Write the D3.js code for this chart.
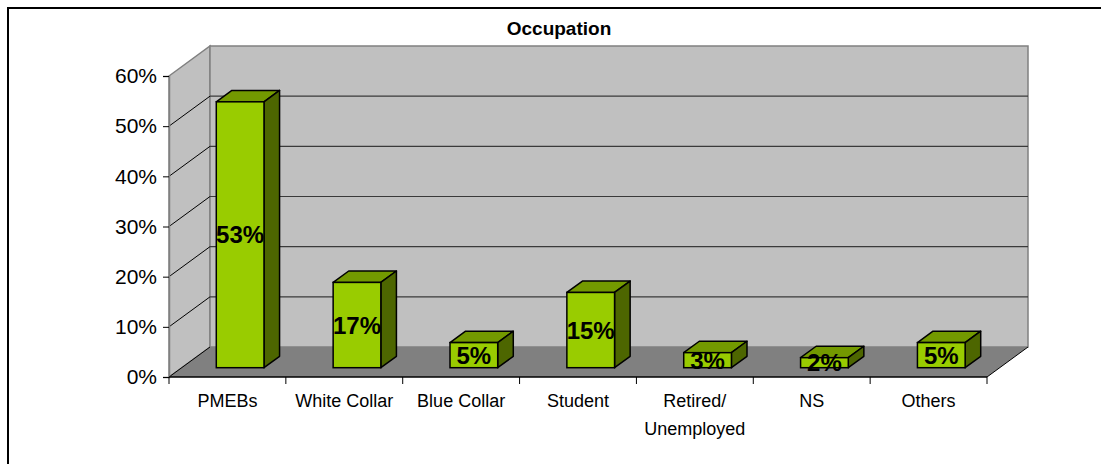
<!DOCTYPE html>
<html><head><meta charset="utf-8">
<script src="https://cdn.jsdelivr.net/npm/d3@7"></script>
<style>body{margin:0;background:#fff}svg{display:block}text{font-family:"Liberation Sans",Arial,sans-serif}</style>
</head><body><svg id="c" width="1101" height="464"></svg>
<script>
const categories = ["PMEBs","White Collar","Blue Collar","Student","Retired/\nUnemployed","NS","Others"];
const values = [53,17,5,15,3,2,5];
const yTicks = [0,10,20,30,40,50,60];
const title = "Occupation";

const svg = d3.select("#c");
svg.append("rect").attr("x",8).attr("y",8).attr("width",1200).attr("height",800)
  .attr("fill","#fff").attr("stroke","#000").attr("stroke-width",2);

const x0 = 169, x1 = 987, yb = 377, yt = 76;
const dx = 41, dy = -30;
const x = d3.scaleBand().domain(categories).range([x0,x1]).paddingInner(0).paddingOuter(0);
const y = d3.scaleLinear().domain([0,60]).range([yb,yt]);

// walls
const g = svg.append("g");
g.append("polygon").attr("points",[[x0,y(60)],[x0+dx,y(60)+dy],[x0+dx,yb+dy],[x0,yb]].join(" "))
  .attr("fill","#C0C0C0").attr("stroke","#808080").attr("stroke-width",1.5);
g.append("polygon").attr("points",[[x0+dx,y(60)+dy],[x1+dx,y(60)+dy],[x1+dx,yb+dy],[x0+dx,yb+dy]].join(" "))
  .attr("fill","#C0C0C0").attr("stroke","#808080").attr("stroke-width",1.5);
g.append("polygon").attr("points",[[x0,yb],[x0+dx,yb+dy],[x1+dx,yb+dy],[x1,yb]].join(" "))
  .attr("fill","#808080");
// gridlines
yTicks.forEach(t=>{
  if(t===0||t===60) return;
  g.append("line").attr("x1",x0+dx).attr("x2",x1+dx).attr("y1",y(t)+dy).attr("y2",y(t)+dy)
    .attr("stroke","#3a3a3a").attr("stroke-width",1.2);
  g.append("line").attr("x1",x0).attr("x2",x0+dx).attr("y1",y(t)).attr("y2",y(t)+dy)
    .attr("stroke","#000").attr("stroke-width",1);
});
g.append("line").attr("x1",x1).attr("y1",yb).attr("x2",x1+dx).attr("y2",yb+dy).attr("stroke","#000").attr("stroke-width",1);
g.append("line").attr("x1",x0).attr("y1",yb).attr("x2",x0+dx).attr("y2",yb+dy).attr("stroke","#000").attr("stroke-width",1);

// y axis
const ya = svg.append("g").attr("transform",`translate(${x0},0)`)
  .call(d3.axisLeft(y).tickValues(yTicks).tickFormat(d=>d+"%").tickSize(6).tickPadding(6));
ya.select(".domain").attr("stroke","#808080").attr("stroke-width",1.5);
ya.selectAll(".tick line").attr("stroke","#000");
ya.selectAll(".tick text").attr("font-size",21).attr("fill","#000").style("font-family","Liberation Sans, Arial, sans-serif");

// x baseline & ticks
svg.append("line").attr("x1",x0).attr("x2",x1).attr("y1",yb).attr("y2",yb).attr("stroke","#000").attr("stroke-width",1.5);
const bounds = categories.map(c=>x(c)).concat([x1]);
bounds.forEach(b=>svg.append("line").attr("x1",b).attr("x2",b).attr("y1",yb).attr("y2",yb+7).attr("stroke","#000"));
categories.forEach(c=>{
  const t = svg.append("text").attr("x",x(c)+x.bandwidth()/2).attr("y",407)
    .attr("text-anchor","middle").attr("font-size",18).attr("fill","#000");
  c.split("\n").forEach((s,i)=>t.append("tspan").attr("x",x(c)+x.bandwidth()/2).attr("dy",i?28:0).text(s));
});

// bars
const f0 = 0.31, f1 = 0.69;
const bw = x.bandwidth()/2.45;
const bars = svg.append("g");
categories.forEach((c,i)=>{
  const v = values[i];
  const cx = x(c)+x.bandwidth()/2 + f0*dx;
  const L = cx - bw/2, R = cx + bw/2;
  const T = y(v) + f0*dy, B = yb + f0*dy;
  const ddx = (f1-f0)*dx, ddy = (f1-f0)*dy;
  bars.append("polygon").attr("points",[[L,T],[L+ddx,T+ddy],[R+ddx,T+ddy],[R,T]].join(" "))
    .attr("fill","#739900").attr("stroke","#000").attr("stroke-width",1.5).attr("stroke-linejoin","round");
  bars.append("polygon").attr("points",[[R,T],[R+ddx,T+ddy],[R+ddx,B+ddy],[R,B]].join(" "))
    .attr("fill","#4D6600").attr("stroke","#000").attr("stroke-width",1.5).attr("stroke-linejoin","round");
  bars.append("rect").attr("x",L).attr("y",T).attr("width",R-L).attr("height",B-T)
    .attr("fill","#99CC00").attr("stroke","#000").attr("stroke-width",1.5);
  bars.append("text").attr("x",cx).attr("y",(T+B)/2).attr("dy","0.36em").attr("text-anchor","middle")
    .attr("font-size",24).attr("font-weight","bold").attr("fill","#000").text(v+"%");
});

svg.append("text").attr("x",559).attr("y",35).attr("text-anchor","middle")
  .attr("font-size",19).attr("font-weight","bold").text(title);
</script></body></html>
